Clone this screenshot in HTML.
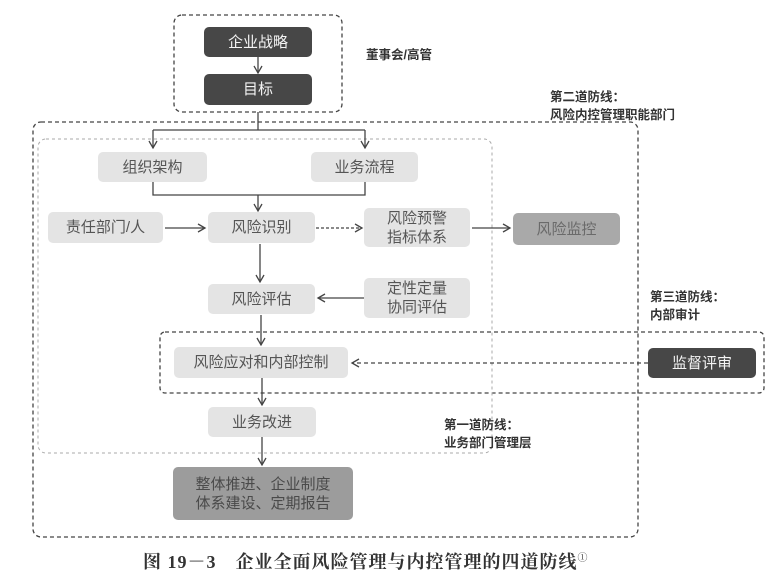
<!DOCTYPE html>
<html><head><meta charset="utf-8"><style>
body{margin:0;background:#fff;}
.w{position:relative;width:782px;height:587px;overflow:hidden;font-family:"Liberation Sans","Noto Sans CJK SC",sans-serif;}
.b{position:absolute;display:flex;align-items:center;justify-content:center;text-align:center;border-radius:5px;font-size:15px;line-height:19px;}
.l{background:#e4e4e4;color:#555;}
.d{background:#474747;color:#f4f4f4;}
.t{position:absolute;font-size:12.5px;font-weight:bold;color:#333;line-height:18px;}
</style></head><body><div class="w">
<svg width="782" height="587" style="position:absolute;left:0;top:0">
<defs><marker id="a" markerWidth="10" markerHeight="10" refX="8" refY="5" orient="auto" markerUnits="userSpaceOnUse"><path d="M1,1 L8,5 L1,9" fill="none" stroke="#444" stroke-width="1.3"/></marker></defs>
<g fill="none" stroke="#444" stroke-width="1.3" stroke-dasharray="4,3">
<rect x="174" y="15" width="168" height="97" rx="8"/>
<rect x="33" y="122" width="605" height="415" rx="8"/>
<rect x="160" y="332" width="604" height="61" rx="5"/>
</g>
<rect x="38" y="139" width="454" height="314" rx="8" fill="none" stroke="#aaa" stroke-width="1" stroke-dasharray="3,3"/>
<g fill="none" stroke="#444" stroke-width="1.3">
<line x1="258" y1="57" x2="258" y2="73" marker-end="url(#a)"/>
<polyline points="258,112 258,130"/>
<polyline points="153,130 365,130"/>
<line x1="153" y1="130" x2="153" y2="148" marker-end="url(#a)"/>
<line x1="365" y1="130" x2="365" y2="148" marker-end="url(#a)"/>
<polyline points="153,182 153,195 365,195 365,182"/>
<line x1="258" y1="195" x2="258" y2="211" marker-end="url(#a)"/>
<line x1="165" y1="228" x2="205" y2="228" marker-end="url(#a)"/>
<line x1="316" y1="228" x2="362" y2="228" stroke-dasharray="3,2" marker-end="url(#a)"/>
<line x1="472" y1="228" x2="510" y2="228" marker-end="url(#a)"/>
<line x1="260" y1="244" x2="260" y2="282" marker-end="url(#a)"/>
<line x1="364" y1="298" x2="318" y2="298" marker-end="url(#a)"/>
<line x1="261" y1="315" x2="261" y2="345" marker-end="url(#a)"/>
<line x1="648" y1="363" x2="352" y2="363" stroke-dasharray="4,3" marker-end="url(#a)"/>
<line x1="262" y1="378" x2="262" y2="405" marker-end="url(#a)"/>
<line x1="262" y1="437" x2="262" y2="465" marker-end="url(#a)"/>
</g>
</svg>
<div class="b d" style="left:204px;top:27px;width:108px;height:30px">企业战略</div>
<div class="b d" style="left:204px;top:74px;width:108px;height:31px">目标</div>
<div class="t" style="left:366px;top:46px">董事会/高管</div>
<div class="t" style="left:550px;top:88px">第二道防线：<br>风险内控管理职能部门</div>
<div class="b l" style="left:98px;top:152px;width:109px;height:30px">组织架构</div>
<div class="b l" style="left:311px;top:152px;width:107px;height:30px">业务流程</div>
<div class="b l" style="left:48px;top:212px;width:115px;height:31px">责任部门/人</div>
<div class="b l" style="left:208px;top:212px;width:107px;height:31px">风险识别</div>
<div class="b l" style="left:364px;top:208px;width:106px;height:39px">风险预警<br>指标体系</div>
<div class="b" style="left:513px;top:213px;width:107px;height:32px;background:#a9a9a9;color:#6a6a6a">风险监控</div>
<div class="b l" style="left:208px;top:284px;width:107px;height:30px">风险评估</div>
<div class="b l" style="left:364px;top:278px;width:106px;height:40px">定性定量<br>协同评估</div>
<div class="t" style="left:650px;top:288px">第三道防线：<br>内部审计</div>
<div class="b l" style="left:174px;top:347px;width:174px;height:31px">风险应对和内部控制</div>
<div class="b d" style="left:648px;top:348px;width:108px;height:30px">监督评审</div>
<div class="b l" style="left:208px;top:407px;width:108px;height:30px">业务改进</div>
<div class="t" style="left:444px;top:416px">第一道防线：<br>业务部门管理层</div>
<div class="b" style="left:173px;top:467px;width:180px;height:53px;background:#9c9c9c;color:#4a4a4a">整体推进、企业制度<br>体系建设、定期报告</div>
<div style="position:absolute;left:143px;top:548px;font-family:'Liberation Serif','Noto Serif CJK SC',serif;font-size:18px;font-weight:bold;color:#333;letter-spacing:1px;white-space:nowrap">图 19－3　企业全面风险管理与内控管理的四道防线<sup style="font-size:10px;font-weight:normal">①</sup></div>
</div></body></html>
